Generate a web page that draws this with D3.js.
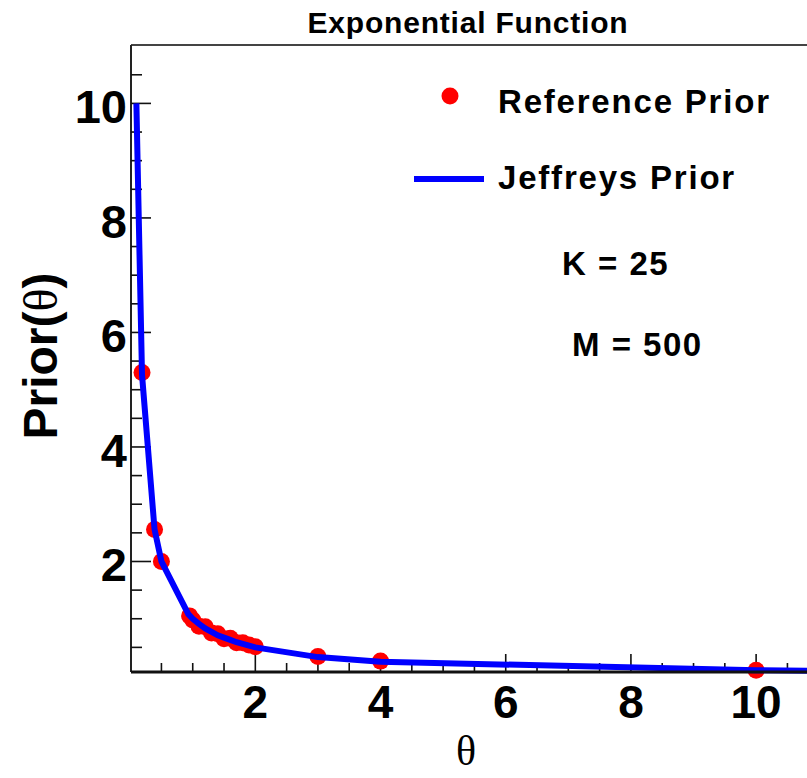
<!DOCTYPE html>
<html>
<head>
<meta charset="utf-8">
<script src="https://cdn.jsdelivr.net/npm/d3@7"></script>
<style>
  body { margin: 0; background: #fff; }
  text { font-family: "Liberation Sans", Arial, sans-serif; font-weight: bold; fill: #000; }
</style>
</head>
<body>
<div id="chart"></div>
<script>
/** Exponential function priors *******************/

// Reference prior (red points)
var refTheta = [0.19, 0.39, 0.5, 0.95, 1.0, 1.1, 1.2, 1.3, 1.4, 1.5, 1.6, 1.7, 1.8, 1.9, 2.0, 3, 4, 10];
var refPrior = [5.3, 2.56, 2.0, 1.05, 0.98, 0.87, 0.86, 0.75, 0.74, 0.65, 0.66, 0.58, 0.58, 0.54, 0.51, 0.34, 0.26, 0.10];

// Jeffreys prior (blue line)
var jefTheta = [0.1, 0.19, 0.39, 0.5, 0.93, 1.0, 1.1, 1.2, 1.3, 1.4, 1.5, 1.6, 1.7, 1.8, 1.9, 2.0, 3, 4, 10, 12];
var jefPrior = [10, 5.26, 2.56, 2.0, 1.08, 1.0, 0.91, 0.83, 0.77, 0.71, 0.67, 0.63, 0.59, 0.56, 0.53, 0.5, 0.33, 0.25, 0.1, 0.083];

// Axis ticks
var xMajor = [2, 4, 6, 8, 10];
var yMajor = [2, 4, 6, 8, 10];
var xMinor = d3.range(0.5, 11, 0.5);
var yMinor = d3.range(0.5, 11, 0.5);

var legendLabels = ["Reference Prior", "Jeffreys Prior"];
var notes = ["K = 25", "M = 500"];

//**************************************************/

var width = 807;
var height = 778;
var frameLeft = 131, frameTop = 45, frameBottom = 672;

var x = d3.scaleLinear().domain([0.014, 11]).range([frameLeft, frameLeft + (11 - 0.014) * 62.6]);
var y = d3.scaleLinear().domain([0.07, 11.02]).range([frameBottom, frameTop]);

var svg = d3.select("#chart").append("svg")
    .attr("width", width)
    .attr("height", height);

// Title
svg.append("text")
    .attr("x", 468)
    .attr("y", 33)
    .attr("text-anchor", "middle")
    .style("font-size", "30px")
    .style("letter-spacing", "0.8px")
    .text("Exponential Function");

// Frame: top and left lines
svg.append("line")
    .attr("x1", frameLeft).attr("x2", width)
    .attr("y1", frameTop).attr("y2", frameTop)
    .style("stroke", "#444")
    .style("stroke-width", 2);

svg.append("line")
    .attr("x1", frameLeft).attr("x2", frameLeft)
    .attr("y1", frameTop).attr("y2", frameBottom)
    .style("stroke", "#222")
    .style("stroke-width", 2);

// Y ticks (inside, to the right)
svg.selectAll(".yminor")
    .data(yMinor)
  .enter().append("line")
    .attr("class", "yminor")
    .attr("x1", frameLeft)
    .attr("x2", function(d) { return yMajor.indexOf(d) >= 0 ? frameLeft + 20 : frameLeft + 11; })
    .attr("y1", function(d) { return y(d); })
    .attr("y2", function(d) { return y(d); })
    .style("stroke", "#111")
    .style("stroke-width", 1.6);

svg.selectAll(".ylab")
    .data(yMajor)
  .enter().append("text")
    .attr("class", "ylab")
    .attr("x", 127)
    .attr("y", function(d) { return y(d) + 20; })
    .attr("text-anchor", "end")
    .style("font-size", "47px")
    .text(function(d) { return d; });

// X ticks (inside, upward)
svg.selectAll(".xminor")
    .data(xMinor)
  .enter().append("line")
    .attr("class", "xminor")
    .attr("x1", function(d) { return x(d); })
    .attr("x2", function(d) { return x(d); })
    .attr("y1", frameBottom)
    .attr("y2", function(d) { return xMajor.indexOf(d) >= 0 ? frameBottom - 18 : frameBottom - 9; })
    .style("stroke", "#111")
    .style("stroke-width", 1.6);

svg.selectAll(".xlab")
    .data(xMajor)
  .enter().append("text")
    .attr("class", "xlab")
    .attr("x", function(d) { return x(d); })
    .attr("y", 718)
    .attr("text-anchor", "middle")
    .style("font-size", "46px")
    .text(function(d) { return d; });

// Axis titles
svg.append("text")
    .attr("x", 466)
    .attr("y", 765)
    .attr("text-anchor", "middle")
    .style("font-family", "'Liberation Serif', serif")
    .style("font-weight", "normal")
    .style("font-size", "42px")
    .text("\u03b8");

var yTitle = svg.append("text")
    .attr("transform", "translate(57, 356) rotate(-90)")
    .attr("text-anchor", "middle")
    .style("font-size", "48px");
yTitle.append("tspan").text("Prior(");
yTitle.append("tspan")
    .style("font-family", "'Liberation Serif', serif")
    .style("font-weight", "normal")
    .text("\u03b8");
yTitle.append("tspan").text(")");

// Red points under the blue line
svg.selectAll(".ref")
    .data(refTheta)
  .enter().append("circle")
    .attr("class", "ref")
    .attr("cx", function(d) { return x(d); })
    .attr("cy", function(d, i) { return y(refPrior[i]); })
    .attr("r", 8.5)
    .style("fill", "#ff0000");

// Blue Jeffreys line
var line = d3.line()
    .x(function(d) { return x(d); })
    .y(function(d, i) { return y(jefPrior[i]); });

svg.append("path")
    .datum(jefTheta)
    .attr("d", line)
    .style("fill", "none")
    .style("stroke", "#0000ff")
    .style("stroke-width", 6);

// Bottom axis line drawn over the curve ends
svg.append("line")
    .attr("x1", frameLeft).attr("x2", width)
    .attr("y1", frameBottom).attr("y2", frameBottom)
    .style("stroke", "#111")
    .style("stroke-width", 3);

// Legend
svg.append("circle")
    .attr("cx", 450).attr("cy", 96).attr("r", 8.5)
    .style("fill", "#ff0000");
svg.append("line")
    .attr("x1", 414).attr("x2", 484)
    .attr("y1", 179).attr("y2", 179)
    .style("stroke", "#0000ff")
    .style("stroke-width", 6);

svg.selectAll(".leg")
    .data(legendLabels)
  .enter().append("text")
    .attr("class", "leg")
    .attr("x", 498)
    .attr("y", function(d, i) { return [113, 189][i]; })
    .style("font-size", "33px")
    .style("letter-spacing", "1.8px")
    .text(function(d) { return d; });

svg.selectAll(".note")
    .data(notes)
  .enter().append("text")
    .attr("class", "note")
    .attr("x", function(d, i) { return [562, 572][i]; })
    .attr("y", function(d, i) { return [275, 356][i]; })
    .style("font-size", "33px")
    .style("letter-spacing", "1.5px")
    .text(function(d) { return d; });
</script>
</body>
</html>
